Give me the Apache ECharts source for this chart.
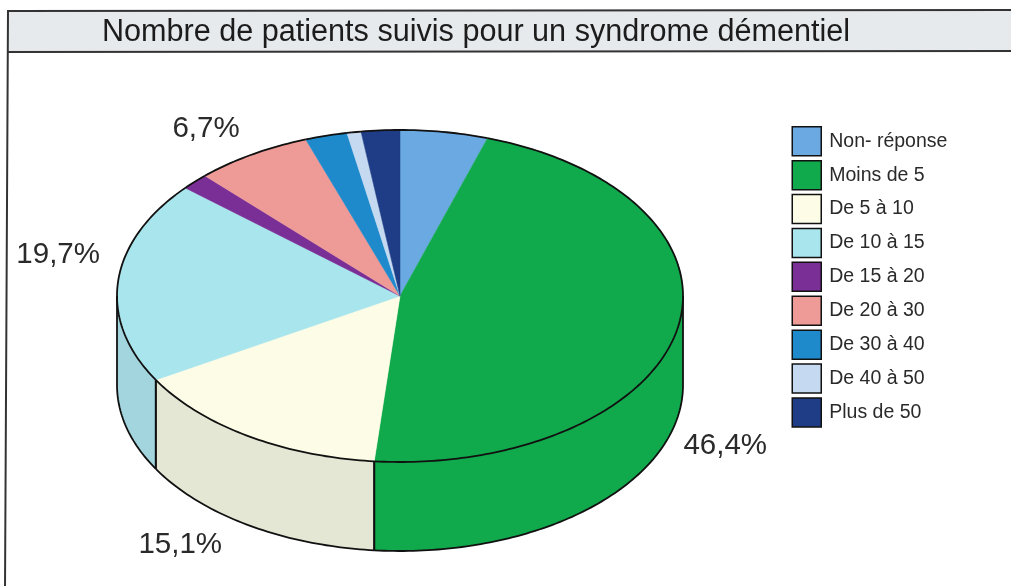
<!DOCTYPE html>
<html><head><meta charset="utf-8">
<style>html,body{margin:0;padding:0;background:#fff}#c{width:1011px;height:586px}</style>
<script src="https://cdn.jsdelivr.net/npm/echarts@6/dist/echarts.min.js"></script>
</head><body><div id="c"></div>
<script>
const categories = ['Non- réponse','Moins de 5','De 5 à 10','De 10 à 15','De 15 à 20','De 20 à 30','De 30 à 40','De 40 à 50','Plus de 50'];
const values = [5.0,46.4,15.1,19.7,1.6,6.7,2.4,0.8,2.2];
const percentLabels = [null,'46,4%','15,1%','19,7%',null,'6,7%',null,null,null];

const topColors  = ['#6ba9e3','#10a94b','#fdfce6','#a9e5ec','#7a2f96','#ee9a96','#1f8acb','#c5daf0','#1f3c86'];
const wallColors = ['#6ba9e3','#10a94b','#e3e7d3','#a2d5de','#7a2f96','#ee9a96','#1f8acb','#c5daf0','#1f3c86'];
const labelOffsets = [null,[48,116],[-68,109],[-60,-26],null,[-46,-26],null,null,null];

const CX=400, CY=296, RX=283, RY=166, DEPTH=89, INK='#111';
const total = values.reduce((a,b)=>a+b,0);
const rim=(deg,dy=0)=>{const t=deg*Math.PI/180;return [CX+RX*Math.sin(t),CY-RY*Math.cos(t)+dy];};
const arc=(a,b,dy=0)=>{const n=Math.max(2,Math.ceil(Math.abs(b-a)));const p=[];for(let i=0;i<=n;i++)p.push(rim(a+(b-a)*i/n,dy));return p;};

function sliceRenderer(i){
  return function(){
    const before=values.slice(0,i).reduce((a,b)=>a+b,0);
    const a=before/total*360, b=(before+values[i])/total*360;
    const kids=[];
    const wa=Math.max(a,90), wb=Math.min(b,270);
    if(wa<wb){
      const upper=arc(wa,wb), lower=arc(wb,wa,DEPTH);
      kids.push({type:'polygon',z2:1,shape:{points:upper.concat(lower)},style:{fill:wallColors[i],stroke:null}});
      kids.push({type:'polyline',z2:3,shape:{points:arc(wa,wb,DEPTH)},style:{fill:null,stroke:INK,lineWidth:1.8}});
      kids.push({type:'polyline',z2:3,shape:{points:[rim(wa),rim(wa,DEPTH)]},style:{fill:null,stroke:INK,lineWidth:1.8}});
      kids.push({type:'polyline',z2:3,shape:{points:[rim(wb),rim(wb,DEPTH)]},style:{fill:null,stroke:INK,lineWidth:1.8}});
    }
    kids.push({type:'polygon',z2:2,shape:{points:[[CX,CY]].concat(arc(a,b))},style:{fill:topColors[i],stroke:topColors[i],lineWidth:0.5}});
    kids.push({type:'polyline',z2:4,shape:{points:arc(a,b)},style:{fill:null,stroke:INK,lineWidth:1.8}});
    if(percentLabels[i]){
      const m=rim((a+b)/2), o=labelOffsets[i];
      kids.push({type:'text',z2:5,style:{x:m[0]+o[0],y:m[1]+o[1],text:percentLabels[i],fill:'#2a2a2a',fontFamily:'Liberation Sans',fontSize:29.5,align:'center',verticalAlign:'middle'}});
    }
    return {type:'group',children:kids};
  };
}

const chart=echarts.init(document.getElementById('c'),null,{renderer:'canvas'});
chart.setOption({
  animation:false,
  backgroundColor:'#fff',
  title:{text:'Nombre de patients suivis pour un syndrome démentiel',left:476,top:33,textAlign:'center',textVerticalAlign:'middle',padding:0,
    textStyle:{fontFamily:'Liberation Sans',fontSize:30.6,fontWeight:'normal',color:'#1c1c1c'}},
  legend:{orient:'vertical',left:791.5,top:126,padding:0,itemWidth:29,itemHeight:29,itemGap:3.4,icon:'rect',data:categories,selectedMode:false,
    itemStyle:{borderColor:'#111',borderWidth:1.5},
    textStyle:{fontFamily:'Liberation Sans',fontSize:19.5,color:'#2a2a2a',padding:[0,0,0,3]}},
  graphic:[
    {type:'polygon',z:-1,shape:{points:[[8,11],[1012,11],[1012,51],[8,52]]},style:{fill:'#e7eaec',stroke:null}},
    {type:'polyline',z:-1,shape:{points:[[5,590],[8,11],[1012,10]]},style:{fill:null,stroke:'#333',lineWidth:2}},
    {type:'line',z:-1,shape:{x1:8,y1:52,x2:1012,y2:51},style:{stroke:'#333',lineWidth:2}}
  ],
  series:categories.map((name,i)=>({
    name,type:'custom',coordinateSystem:'none',silent:true,
    itemStyle:{color:topColors[i]},
    data:[values[i]],
    renderItem:sliceRenderer(i)
  }))
});
</script></body></html>
